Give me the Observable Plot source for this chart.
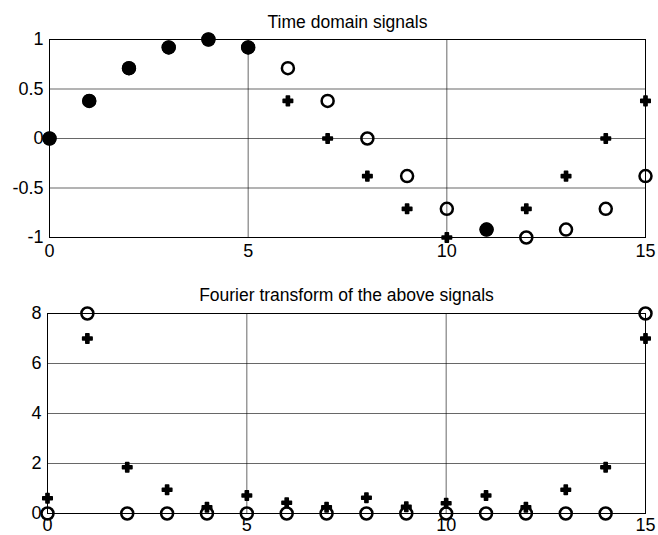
<!DOCTYPE html>
<html><head><meta charset="utf-8">
<script src="https://cdn.jsdelivr.net/npm/d3@7"></script>
<script src="https://cdn.jsdelivr.net/npm/@observablehq/plot@0.6"></script>
<style>
body{margin:0;background:#fff;font-family:Arial,"Liberation Sans",sans-serif}
svg{display:block}
</style>
</head><body><div id="chart"></div>
<script>
const samples = [0,1,2,3,4,5,6,7,8,9,10,11,12,13,14,15];
const timeCircles = [0,0.38,0.71,0.92,1,0.92,0.71,0.38,0,-0.38,-0.71,-0.92,-1,-0.92,-0.71,-0.38];
const timeCrosses = [0,0.38,0.71,0.92,1,0.92,0.38,0,-0.38,-0.71,-1,-0.92,-0.71,-0.38,0,0.38];
const fftCircles = [0,8,0,0,0,0,0,0,0,0,0,0,0,0,0,8];
const fftCrosses = [0.61,7,1.85,0.95,0.25,0.72,0.43,0.25,0.63,0.27,0.41,0.72,0.25,0.95,1.85,7];
const xTicks = [0,5,10,15];
const timeYTicks = [-1,-0.5,0,0.5,1];
const fftYTicks = [0,2,4,6,8];
const titles = ["Time domain signals","Fourier transform of the above signals"];

function panel({height, marginTop, marginBottom, marginLeft, yDomain, yTicks, circles, crosses, title, titleDy, xPad}) {
  const rows = samples.map((s,i) => ({x:s, c:circles[i], p:crosses[i]}));
  return Plot.plot({
    width:658, height, marginTop, marginBottom, marginLeft, marginRight:13,
    style:{fontFamily:'Arial,"Liberation Sans",sans-serif', fontSize:"18px", color:"#000", background:"#fff", overflow:"visible"},
    x:{domain:[0,15], ticks:xTicks, tickSize:0, tickPadding:xPad, tickFormat:String, label:null},
    y:{domain:yDomain, ticks:yTicks, tickSize:0, tickPadding:6, tickFormat:String, label:null},
    marks:[
      Plot.gridX(xTicks,{stroke:"#000", strokeOpacity:0.75, strokeWidth:0.8}),
      Plot.gridY(yTicks,{stroke:"#000", strokeOpacity:0.75, strokeWidth:0.8}),
      Plot.frame({stroke:"#000", strokeWidth:1}),
      Plot.dot(rows,{x:"x",y:"c",r:6,stroke:"#000",strokeWidth:2.5,fill:"none"}),
      Plot.dot(rows.filter(d=>d.c===d.p),{x:"x",y:"c",r:7,fill:"#000"}),
      Plot.dot(rows,{x:"x",y:"p",symbol:"cross",r:4,fill:"#000",stroke:"#000",strokeWidth:1.5,strokeLinejoin:"round"}),
      Plot.text([title],{text:d=>d, frameAnchor:"top", dy:titleDy, fontSize:17.5, fill:"#000"})
    ]
  });
}

const chart = document.getElementById("chart");
chart.append(panel({height:260, marginTop:39, marginBottom:23, marginLeft:49, yDomain:[-1,1], yTicks:timeYTicks,
  circles:timeCircles, crosses:timeCrosses, title:titles[0], titleDy:-24, xPad:7}));
chart.append(panel({height:275, marginTop:53, marginBottom:22, marginLeft:47, yDomain:[0,8], yTicks:fftYTicks,
  circles:fftCircles, crosses:fftCrosses, title:titles[1], titleDy:-25, xPad:5}));
</script>
</body></html>
